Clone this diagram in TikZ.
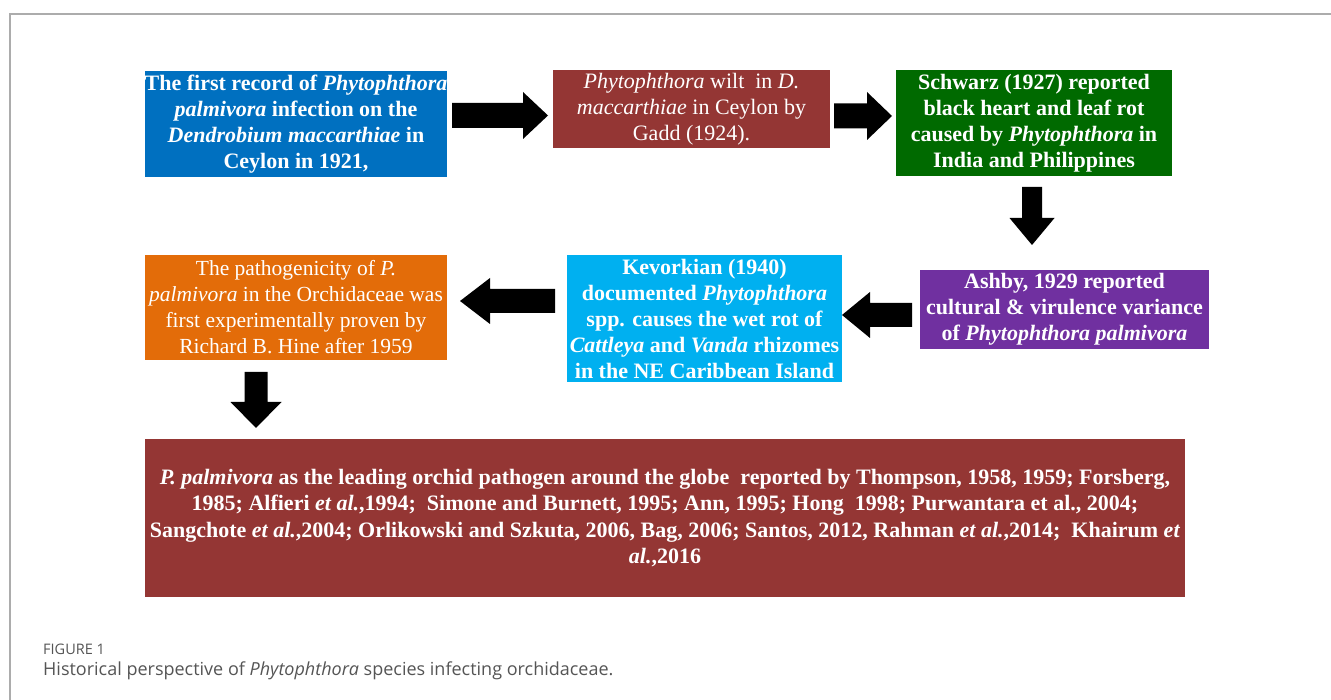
\documentclass[tikz,border=0pt]{standalone}
\usepackage{fontspec}
\setmainfont{Liberation Serif}
\newfontfamily\capfont{Open Sans}
\definecolor{cblue}{HTML}{0070C0}
\definecolor{cbrown}{HTML}{943634}
\definecolor{cgreen}{HTML}{006A00}
\definecolor{cpurple}{HTML}{7030A0}
\definecolor{ccyan}{HTML}{00B0F0}
\definecolor{corange}{HTML}{E36C09}
\definecolor{capgray}{HTML}{555555}
\newcommand\hblk[6]{\fill[blockarrow] (#1,{#4-#5}) -- (#2,{#4-#5}) -- (#2,{#4-#6}) -- (#3,#4) -- (#2,{#4+#6}) -- (#2,{#4+#5}) -- (#1,{#4+#5}) -- cycle;}
\newcommand\vblk[6]{\fill[blockarrow] ({#4-#5},#1) -- ({#4-#5},#2) -- ({#4-#6},#2) -- (#4,#3) -- ({#4+#6},#2) -- ({#4+#5},#2) -- ({#4+#5},#1) -- cycle;}
\begin{document}
\begin{tikzpicture}[x=1pt,y=-1pt,
  box/.style={inner sep=0pt, align=center, text=white, font=\fontsize{22}{26}\selectfont},
  bbox/.style={box, font=\fontsize{22}{26}\selectfont\bfseries},
  blockarrow/.style={fill=black},
  frame/.style={draw=gray!65, line width=1.5pt}]
\useasboundingbox (0,0) rectangle (1331,700);
\fill[white] (0,0) rectangle (1331,700);
\draw[frame] (1331,14) -- (10,14) -- (10,700);

\node[bbox, fill=cblue, minimum width=302pt, minimum height=106pt] (n1) at (296,124)
  {The first record of \textit{Phytophthora}\\ \textit{palmivora} infection on the\\ \textit{Dendrobium maccarthiae} in\\ Ceylon in 1921,};
\node[box, fill=cbrown, minimum width=277pt, minimum height=78pt, font=\fontsize{22}{26}\selectfont] (n2) at (691.5,109)
  {\textit{Phytophthora} wilt\ \ in \textit{D.}\\ \textit{maccarthiae} in Ceylon by\\ Gadd (1924).};
\node[bbox, fill=cgreen, minimum width=276pt, minimum height=106pt] (n3) at (1034,123)
  {Schwarz (1927) reported\\ black heart and leaf rot\\ caused by \textit{Phytophthora} in\\ India and Philippines};
\node[bbox, fill=cpurple, minimum width=289pt, minimum height=79pt] (n4) at (1064.5,309.5)
  {Ashby, 1929 reported\\ cultural \& virulence variance\\ of \textit{Phytophthora palmivora}};
\node[bbox, fill=ccyan, minimum width=275pt, minimum height=127pt] (n5) at (704.5,318.5)
  {Kevorkian (1940)\\ documented \textit{Phytophthora}\\ spp. causes the wet rot of\\ \textit{Cattleya} and \textit{Vanda} rhizomes\\ in the NE Caribbean Island};
\node[box, fill=corange, minimum width=302pt, minimum height=105pt, font=\fontsize{21.5}{26}\selectfont] (n6) at (296,307.5)
  {The pathogenicity of \textit{P.}\\ \textit{palmivora} in the Orchidaceae was\\ first experimentally proven by\\ Richard B. Hine after 1959};
\node[bbox, fill=cbrown, minimum width=1040pt, minimum height=158pt, font=\fontsize{22}{26.5}\selectfont\bfseries] (n7) at (665,518)
  {\textit{P. palmivora} as the leading orchid pathogen around the globe\ \ reported by Thompson, 1958, 1959; Forsberg,\\
   1985; Alfieri \textit{et al.},1994;\ \ Simone and Burnett, 1995; Ann, 1995; Hong\ \ 1998; Purwantara et al., 2004;\\
   Sangchote \textit{et al.},2004; Orlikowski and Szkuta, 2006, Bag, 2006; Santos, 2012, Rahman \textit{et al.},2014;\ \ Khairum \textit{et}\\
   \textit{al.},2016};

% block arrows between boxes
\hblk{452}{523}{548}{115.5}{12.5}{23.5}
\hblk{834}{867}{892}{116}{12.5}{24}
\vblk{187}{218}{245}{1032}{10}{22.5}
\hblk{912}{870}{842}{315}{12}{23}
\hblk{555}{490}{460}{301}{12}{23}
\vblk{372}{402}{428}{256}{11.5}{25.5}

\node[anchor=west, inner sep=0pt, text=capgray, font=\capfont\fontsize{14.5}{16}\selectfont] (figlabel) at (43,649) {FIGURE 1};
\node[anchor=west, inner sep=0pt, text=capgray, font=\capfont\fontsize{18}{20}\selectfont] (caption) at (43,671)
  {Historical perspective of \textit{Phytophthora} species infecting orchidaceae.};
\end{tikzpicture}
\end{document}
